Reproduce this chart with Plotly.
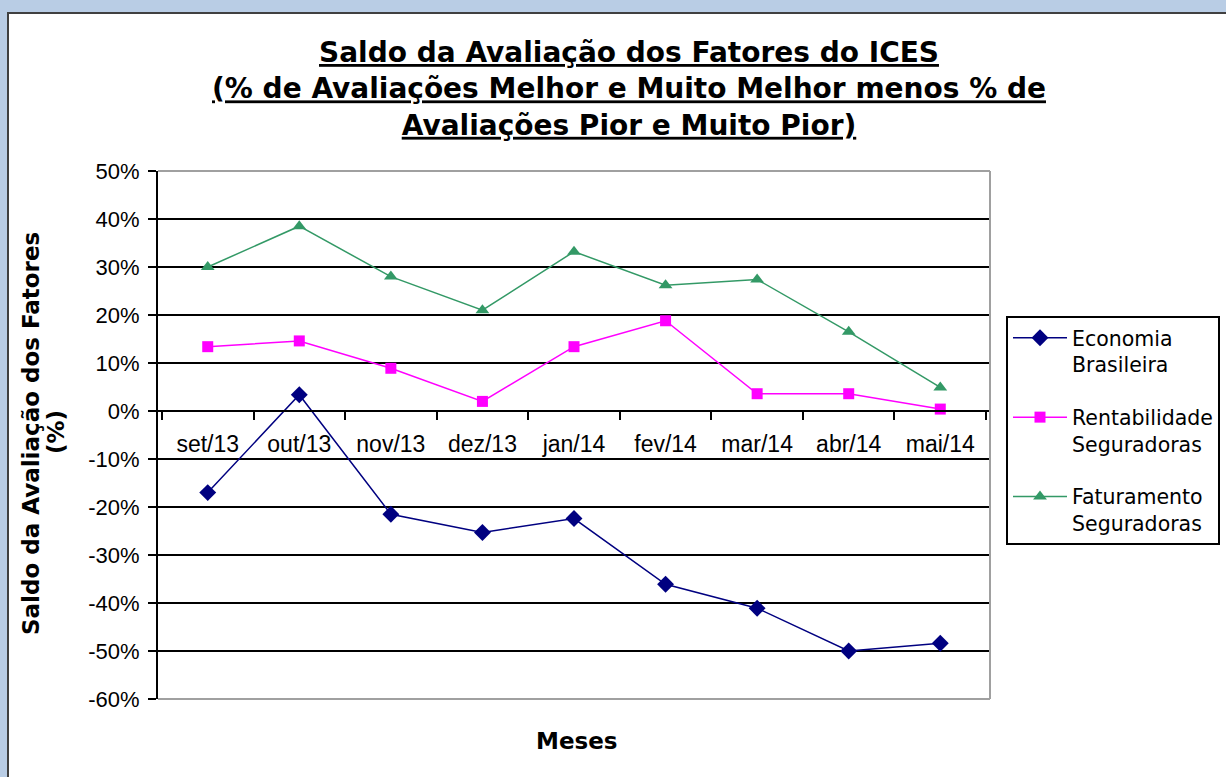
import plotly.graph_objects as go

months = ["set/13", "out/13", "nov/13", "dez/13", "jan/14", "fev/14", "mar/14", "abr/14", "mai/14"]
economia = [-17.0, 3.4, -21.5, -25.3, -22.4, -36.1, -41.1, -50.0, -48.4]
rentabilidade = [13.4, 14.6, 8.9, 2.0, 13.4, 18.8, 3.6, 3.6, 0.4]
faturamento = [30.0, 38.5, 28.0, 21.0, 33.2, 26.2, 27.4, 16.5, 4.9]
series_names = ["Economia<br>Brasileira", "Rentabilidade<br>Seguradoras", "Faturamento<br>Seguradoras"]
y_ticks = list(range(-60, 51, 10))

W, H = 1226, 777
L, R, T, B = 158, 990, 171, 699

def px_x(p):
    return (p - L) / (R - L)

def px_y(p):
    return (B - p) / (B - T)

fig = go.Figure()
styles = [
    dict(color="#000080", symbol="diamond", size=13),
    dict(color="#ff00ff", symbol="square", size=11),
    dict(color="#339966", symbol="triangle-up", size=12),
]
for i, (vals, name, st) in enumerate(zip([economia, rentabilidade, faturamento], series_names, styles)):
    fig.add_trace(go.Scatter(
        x=months, y=vals, name=name, mode="lines+markers",
        line=dict(color=st["color"], width=1.5),
        marker=dict(color=st["color"], symbol=st["symbol"], size=st["size"]),
        legendgroup=f"g{i}",
    ))

fig.update_layout(
    width=W, height=H,
    margin=dict(l=L, r=W - R, t=T, b=H - B, autoexpand=False),
    paper_bgcolor="#b9cde5",
    plot_bgcolor="white",
    showlegend=True,
    legend=dict(
        x=px_x(1006), y=px_y(316), xanchor="left", yanchor="top",
        bgcolor="white", bordercolor="black", borderwidth=2,
        font=dict(family="DejaVu Sans", size=20.5, color="black"),
        itemwidth=54, valign="top", traceorder="grouped", tracegroupgap=23,
    ),
    xaxis=dict(
        type="category", anchor="free", position=60 / 110,
        showline=True, linecolor="black", linewidth=2,
        ticks="outside", tickson="boundaries", ticklen=8, tickcolor="black", tickwidth=2,
        ticklabelstandoff=12,
        showgrid=False, zeroline=False,
        tickfont=dict(family="Liberation Sans, Arial", size=23, color="black"),
    ),
    yaxis=dict(
        range=[-60, 50], tickvals=y_ticks, ticktext=[f"{v}%" for v in y_ticks],
        showline=True, linecolor="black", linewidth=2,
        ticks="outside", ticklen=8, tickcolor="black", tickwidth=2,
        ticklabelstandoff=4,
        showgrid=True, gridcolor="black", gridwidth=2, zeroline=False,
        tickfont=dict(family="Liberation Sans, Arial", size=22, color="black"),
    ),
    shapes=[
        dict(type="rect", xref="paper", yref="paper", layer="below",
             x0=px_x(8), x1=px_x(1240), y0=px_y(790), y1=px_y(13),
             fillcolor="white", line=dict(color="#404040", width=2)),
        dict(type="line", xref="paper", yref="paper", layer="above",
             x0=0, x1=1, y0=1, y1=1, line=dict(color="#a0a0a0", width=2)),
        dict(type="line", xref="paper", yref="paper", layer="above",
             x0=1, x1=1, y0=0, y1=1, line=dict(color="#a0a0a0", width=2)),
        dict(type="line", xref="paper", yref="paper", layer="above",
             x0=0, x1=1, y0=0, y1=0, line=dict(color="#a0a0a0", width=2)),
    ],
    annotations=[
        dict(text="<u>Saldo da Avaliação dos Fatores do ICES</u><br><u>(% de Avaliações Melhor e Muito Melhor menos % de</u><br><u>Avaliações Pior e Muito Pior)</u>",
             xref="paper", yref="paper", x=px_x(629), y=px_y(34), xanchor="center", yanchor="top",
             showarrow=False, align="center",
             font=dict(family="DejaVu Sans", size=28, color="black", weight="bold")),
        dict(text="Saldo da Avaliação dos Fatores",
             xref="paper", yref="paper", x=px_x(31), y=px_y(434), xanchor="center", yanchor="middle",
             textangle=-90, showarrow=False, align="center",
             font=dict(family="DejaVu Sans", size=23, color="black", weight="bold")),
        dict(text="(%)",
             xref="paper", yref="paper", x=px_x(56), y=px_y(432), xanchor="center", yanchor="middle",
             textangle=-90, showarrow=False, align="center",
             font=dict(family="DejaVu Sans", size=23, color="black", weight="bold")),
        dict(text="Meses",
             xref="paper", yref="paper", x=px_x(576), y=px_y(741), xanchor="center", yanchor="middle",
             showarrow=False,
             font=dict(family="DejaVu Sans", size=23, color="black", weight="bold")),
    ],
)

fig.write_html("out.html", config={"displayModeBar": False},
               post_script="document.body.style.margin='0';document.body.style.overflow='hidden';")
